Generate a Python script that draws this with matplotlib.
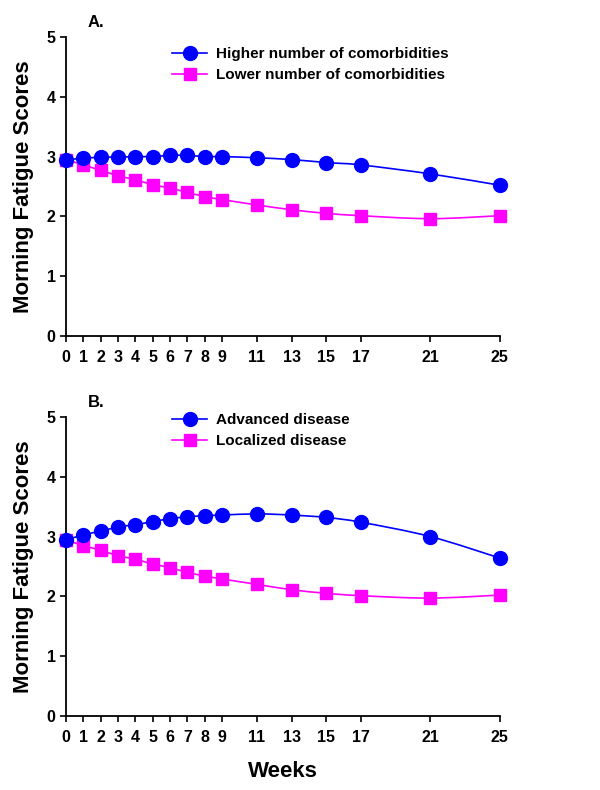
import numpy as np
import matplotlib
matplotlib.use("Agg")
import matplotlib.pyplot as plt
from matplotlib.path import Path
from matplotlib.patches import PathPatch
from matplotlib.lines import Line2D

plt.rcParams['font.family'] = ['Liberation Sans', 'DejaVu Sans']

weeks = [0, 1, 2, 3, 4, 5, 6, 7, 8, 9, 11, 13, 15, 17, 21, 25]

# panel A
higher_comorb = [2.95, 2.97, 2.99, 2.99, 3.00, 3.00, 3.02, 3.02, 3.00, 3.00, 2.98, 2.95, 2.90, 2.86, 2.71, 2.52]
lower_comorb = [2.95, 2.86, 2.77, 2.68, 2.61, 2.53, 2.47, 2.40, 2.33, 2.28, 2.19, 2.11, 2.05, 2.01, 1.96, 2.01]

# panel B
advanced = [2.94, 3.03, 3.09, 3.16, 3.20, 3.25, 3.30, 3.33, 3.35, 3.36, 3.38, 3.36, 3.32, 3.24, 3.00, 2.64]
localized = [2.94, 2.85, 2.77, 2.68, 2.62, 2.54, 2.48, 2.40, 2.34, 2.29, 2.20, 2.11, 2.05, 2.01, 1.97, 2.02]

BLUE = "#0000FF"
MAGENTA = "#FF00FF"


def smooth_line(ax, x, y, color):
    # excel style smoothed line: catmull-rom -> cubic bezier
    x = np.asarray(x, float)
    y = np.asarray(y, float)
    verts = [(x[0], y[0])]
    codes = [Path.MOVETO]
    n = len(x)
    for i in range(n - 1):
        p0 = (x[max(i - 1, 0)], y[max(i - 1, 0)])
        p1 = (x[i], y[i])
        p2 = (x[i + 1], y[i + 1])
        p3 = (x[min(i + 2, n - 1)], y[min(i + 2, n - 1)])
        c1 = (p1[0] + (p2[0] - p0[0]) / 6, p1[1] + (p2[1] - p0[1]) / 6)
        c2 = (p2[0] - (p3[0] - p1[0]) / 6, p2[1] - (p3[1] - p1[1]) / 6)
        verts += [c1, c2, p2]
        codes += [Path.CURVE4] * 3
    ax.add_patch(PathPatch(Path(verts, codes), fill=False, edgecolor=color,
                           lw=1.2, clip_on=False, zorder=2))


def panel(ax, s1, s2, lab1, lab2, letter, leg_y):
    smooth_line(ax, weeks, s1, BLUE)
    smooth_line(ax, weeks, s2, MAGENTA)
    ax.plot(weeks, s1, "o", color=BLUE, ms=10, clip_on=False, zorder=4)
    ax.plot(weeks, s2, "s", color=MAGENTA, ms=8, clip_on=False, zorder=3)

    ax.set_xlim(0, 25)
    ax.set_ylim(0, 5)
    ax.set_xticks(weeks)
    ax.set_yticks([0, 1, 2, 3, 4, 5])
    ax.spines["top"].set_visible(False)
    ax.spines["right"].set_visible(False)
    for s in ("left", "bottom"):
        ax.spines[s].set_linewidth(1.3)
    ax.tick_params(direction="out", length=4, width=1.2, labelsize=11.5)
    ax.tick_params(axis="x", pad=6)
    for t in ax.get_xticklabels() + ax.get_yticklabels():
        t.set_fontweight("bold")
    ax.set_ylabel("Morning Fatigue Scores", fontsize=16, fontweight="bold", labelpad=9)
    ax.text(0.05, 1.025, letter, transform=ax.transAxes, fontsize=12, fontweight="bold",
            ha="left", va="bottom")

    handles = [Line2D([], [], color=BLUE, lw=1.2, marker="o", ms=10),
               Line2D([], [], color=MAGENTA, lw=1.2, marker="s", ms=8)]
    ax.legend(handles, [lab1, lab2], loc="upper left", frameon=False,
              bbox_to_anchor=(0.287, leg_y), bbox_transform=ax.figure.transFigure,
              prop={"weight": "bold", "size": 11}, handlelength=2.3,
              handletextpad=0.55, labelspacing=0.45, borderpad=0, borderaxespad=0)


fig = plt.figure(figsize=(6, 7.9), dpi=100)
ax1 = fig.add_axes([0.11, 0.575, 0.723, 0.378])
ax2 = fig.add_axes([0.11, 0.094, 0.723, 0.378])

panel(ax1, higher_comorb, lower_comorb,
      "Higher number of comorbidities", "Lower number of comorbidities", "A.", 0.940)
panel(ax2, advanced, localized, "Advanced disease", "Localized disease", "B.", 0.477)

ax2.set_xlabel("Weeks", fontsize=16, fontweight="bold", labelpad=12)

fig.savefig("out.png", dpi=100)
